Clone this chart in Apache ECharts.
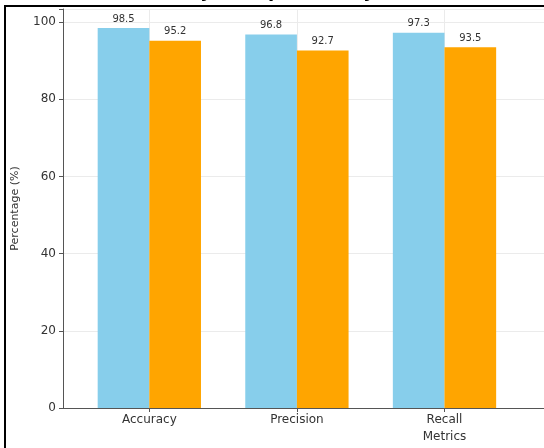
<!DOCTYPE html>
<html>
<head>
<meta charset="utf-8">
<script src="https://cdn.jsdelivr.net/npm/echarts@6/dist/echarts.min.js"></script>
<style>html,body{margin:0;padding:0;background:#fff}#c{width:544px;height:448px}</style>
</head>
<body>
<div id="c"></div>
<script>
var categories = ['Accuracy', 'Precision', 'Recall'];
var modelA = [98.5, 96.8, 97.3];
var modelB = [95.2, 92.7, 93.5];
var yTicks = [0, 20, 40, 60, 80, 100];
var titleText = 'Model Accuracy, Comparison by Metric';

var chart = echarts.init(document.getElementById('c'), null, {renderer: 'canvas'});
var FONT = 'DejaVu Sans';

function pairs(arr) { return arr.map(function (v, i) { return [i, v]; }); }

var ctx = document.createElement('canvas').getContext('2d');
ctx.font = 'bold 18px "' + FONT + '"';
var prefixW = ctx.measureText('Model Accuracy').width;

var labelOpt = {
  show: true, position: 'top', distance: 4,
  fontFamily: FONT, fontSize: 10, color: '#333',
  formatter: function (p) { return p.value[1].toFixed(1); }
};

chart.setOption({
  animation: false,
  backgroundColor: '#fff',
  grid: {left: 63, top: 9, width: 763, height: 399, containLabel: false, outerBoundsMode: 'none'},
  xAxis: {
    type: 'value', min: -0.585, max: 4.585,
    name: 'Metrics', nameLocation: 'middle', nameGap: 22,
    nameTextStyle: {fontFamily: FONT, fontSize: 12, color: '#333'},
    axisLine: {show: true, lineStyle: {color: '#555', width: 1}},
    axisTick: {show: true, customValues: [0, 1, 2], length: 4, lineStyle: {color: '#555'}},
    axisLabel: {
      customValues: [0, 1, 2], margin: 6,
      fontFamily: FONT, fontSize: 12, color: '#333',
      formatter: function (v) { return categories[Math.round(v)] || ''; }
    },
    splitLine: {show: false}
  },
  yAxis: {
    type: 'value', min: 0, max: 103.425, interval: 20,
    name: 'Percentage (%)', nameLocation: 'middle', nameGap: 42, nameRotate: 90,
    nameTextStyle: {fontFamily: FONT, fontSize: 11, color: '#333'},
    axisLine: {show: true, onZero: false, lineStyle: {color: '#555', width: 1}},
    axisTick: {show: true, length: 4, lineStyle: {color: '#555'}},
    axisLabel: {
      customValues: yTicks, margin: 7,
      fontFamily: FONT, fontSize: 12, color: '#333'
    },
    splitLine: {show: true, lineStyle: {color: '#ebebeb', width: 1}}
  },
  series: [
    {
      type: 'line', name: 'grid', data: [], z: 0, silent: true,
      markLine: {
        silent: true, symbol: 'none', label: {show: false}, z: 0,
        lineStyle: {color: '#ebebeb', width: 1, type: 'solid'},
        emphasis: {disabled: true},
        data: categories.map(function (c, i) { return {xAxis: i}; })
      }
    },
    {
      type: 'bar', name: 'A', data: pairs(modelA), z: 5,
      barWidth: '35%', barGap: '0%',
      itemStyle: {color: '#87CEEB'},
      label: labelOpt
    },
    {
      type: 'bar', name: 'B', data: pairs(modelB), z: 5,
      barWidth: '35%', barGap: '0%',
      itemStyle: {color: '#FFA500'},
      label: labelOpt
    }
  ],
  graphic: [
    {type: 'text', left: 212 - prefixW, top: -17, z: 100,
     style: {text: titleText, font: 'bold 18px "' + FONT + '"', fill: '#000'}},
    {type: 'rect', shape: {x: 4, y: 5, width: 540, height: 2}, style: {fill: '#000'}, z: 101},
    {type: 'rect', shape: {x: 4, y: 5, width: 2, height: 443}, style: {fill: '#000'}, z: 101}
  ]
});
</script>
</body>
</html>
